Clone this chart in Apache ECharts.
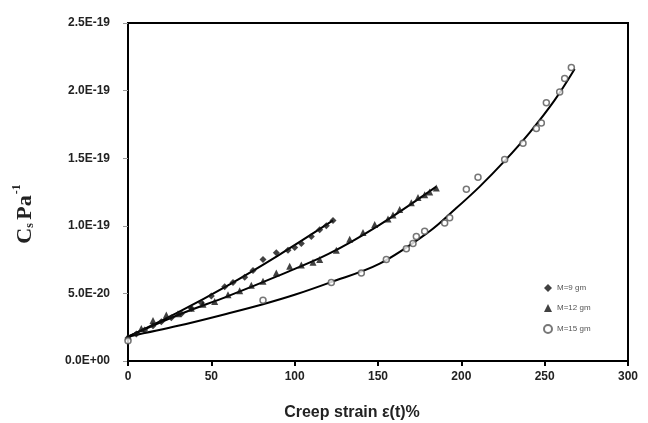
<!DOCTYPE html>
<html><head><meta charset="utf-8">
<script src="https://cdn.jsdelivr.net/npm/echarts@6/dist/echarts.min.js"></script>
<style>html,body{margin:0;padding:0;background:#fff}#c{width:648px;height:423px}</style>
</head><body><div id="c"></div>
<script>
// values of Cs in units of 1E-20 Pa^-1, creep strain in %
const m9X  = [0,5,10,15,20,26,32,38,44,50,58,63,70,75,81,89,96,100,104,110,115,119,123];
const m9Y  = [1.7,2.0,2.3,2.6,2.9,3.2,3.5,3.9,4.3,4.8,5.5,5.8,6.2,6.7,7.5,8.0,8.2,8.4,8.7,9.2,9.7,10.0,10.4];
const m12X = [0,8,15,23,30,38,45,52,60,67,74,81,89,97,104,111,115,125,133,141,148,156,159,163,170,174,178,181,185];
const m12Y = [1.8,2.4,3.0,3.4,3.5,3.9,4.2,4.4,4.9,5.2,5.6,5.9,6.5,7.0,7.1,7.3,7.5,8.2,9.0,9.5,10.1,10.5,10.8,11.2,11.7,12.1,12.3,12.5,12.8];
const m15X = [0,81,122,140,155,167,171,173,178,190,193,203,210,226,237,245,248,251,259,262,266];
const m15Y = [1.5,4.5,5.8,6.5,7.5,8.3,8.7,9.2,9.6,10.2,10.6,12.7,13.6,14.9,16.1,17.2,17.6,19.1,19.9,20.9,21.7];
// fitted curves
const fit9X  = [0,30,60,90,123];
const fit9Y  = [1.8,3.6,5.6,7.8,10.4];
const fit12X = [0,30,60,90,120,150,185];
const fit12Y = [1.8,3.4,4.8,6.3,7.9,10.0,12.9];
const fit15X = [0,30,61,81,100,121,151,181,196,211,226,241,256,268];
const fit15Y = [1.8,2.6,3.55,4.2,4.9,5.8,7.2,9.6,11.2,12.9,14.8,16.9,19.3,21.6];
const seriesNames = ['M=9 gm','M=12 gm','M=15 gm'];
const yTickLabels = {0:'0.0E+00',5:'5.0E-20',10:'1.0E-19',15:'1.5E-19',20:'2.0E-19',25:'2.5E-19'};

const zip = (a,b)=>a.map((v,i)=>[v,b[i]]);
const chart = echarts.init(document.getElementById('c'));
const tickFont = {fontFamily:'Liberation Sans, Arial', fontWeight:'bold', fontSize:12, color:'#222'};
const serif = 'Liberation Serif, Times New Roman';
const fitLine = (x,y)=>({type:'line', data:zip(x,y), smooth:0.35, showSymbol:false, symbol:'none',
  lineStyle:{color:'#000', width:2}, z:1, silent:true});
chart.setOption({
  animation:false,
  grid:{left:128, top:23, right:20, bottom:62, show:true, borderColor:'#000', borderWidth:2,
    containLabel:false, outerBoundsMode:'none'},
  legend:{orient:'vertical', left:538, top:279, itemWidth:8, itemHeight:8, itemGap:12,
    data:seriesNames, textStyle:{fontSize:8, color:'#555', fontFamily:'Liberation Sans, Arial'}},
  xAxis:{type:'value', min:0, max:300, interval:50,
    axisLine:{lineStyle:{color:'#000', width:2}},
    axisTick:{show:true, length:5, lineStyle:{color:'#000', width:2}},
    splitLine:{show:false},
    axisLabel:Object.assign({margin:10}, tickFont),
    name:'Creep strain ε(t)%', nameLocation:'middle', nameGap:44,
    nameTextStyle:{fontFamily:'Liberation Sans, Arial', fontWeight:'bold', fontSize:16, color:'#222',
      padding:[0,52,0,0]}},
  yAxis:{type:'value', min:0, max:25, interval:5,
    axisLine:{lineStyle:{color:'#000', width:2}},
    axisTick:{show:true, length:5, lineStyle:{color:'#999', width:1}},
    splitLine:{show:false},
    axisLabel:Object.assign({margin:18, formatter:v=>yTickLabels[v]}, tickFont),
    name:'{c|C}{s|s} {p|Pa}{e|-1}', nameLocation:'middle', nameGap:92, nameRotate:90,
    nameTextStyle:{padding:[0,44,0,0], rich:{
      c:{fontFamily:serif, fontWeight:'bold', fontSize:22, color:'#222', verticalAlign:'bottom'},
      s:{fontFamily:serif, fontWeight:'bold', fontSize:12, color:'#222', padding:[9,0,0,0], verticalAlign:'bottom'},
      p:{fontFamily:serif, fontWeight:'bold', fontSize:22, color:'#222', verticalAlign:'bottom'},
      e:{fontFamily:serif, fontWeight:'bold', fontSize:12, color:'#222', padding:[0,0,13,1], verticalAlign:'top'}
    }}},
  series:[
    fitLine(fit9X, fit9Y), fitLine(fit12X, fit12Y), fitLine(fit15X, fit15Y),
    {name:seriesNames[0], type:'scatter', data:zip(m9X,m9Y), symbol:'diamond', symbolSize:7,
      itemStyle:{color:'#111'}, z:3},
    {name:seriesNames[1], type:'scatter', data:zip(m12X,m12Y), symbol:'triangle', symbolSize:7,
      itemStyle:{color:'#111'}, z:3},
    {name:seriesNames[2], type:'scatter', data:zip(m15X,m15Y), symbol:'circle', symbolSize:6,
      itemStyle:{color:'#fff', borderColor:'#555', borderWidth:1.5}, z:3}
  ]
});
</script></body></html>
